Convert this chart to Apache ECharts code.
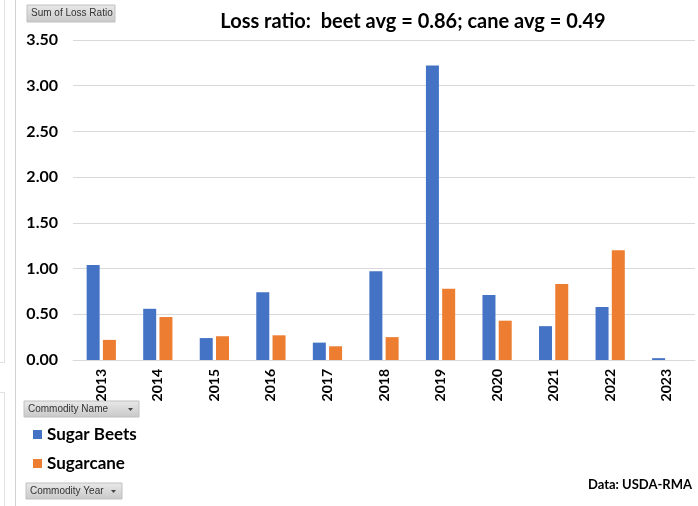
<!DOCTYPE html>
<html>
<head>
<meta charset="utf-8">
<script src="https://cdn.jsdelivr.net/npm/echarts@6/dist/echarts.min.js"></script>
<style>
  html, body { margin: 0; padding: 0; background: #fff; }
  #chart { width: 698px; height: 506px; }
</style>
</head>
<body>
<div id="chart"></div>
<script>
// 年份
var years = ['2013', '2014', '2015', '2016', '2017', '2018', '2019', '2020', '2021', '2022', '2023'];
// 甜菜
var beets = [1.04, 0.56, 0.24, 0.74, 0.19, 0.97, 3.22, 0.71, 0.37, 0.58, 0.02];
// 甘蔗
var cane = [0.22, 0.47, 0.26, 0.27, 0.15, 0.25, 0.78, 0.43, 0.83, 1.20, null];
var seriesNames = ['Sugar Beets', 'Sugarcane'];
var titleText = 'Loss ratio:  beet avg = 0.86; cane avg = 0.49';

var font = 'Lato, "Liberation Sans", sans-serif';

// excel 那种灰色按钮
function button(x, y, w, h, label, arrow) {
    var children = [
        {
            type: 'rect',
            shape: { x: 0, y: 0, width: w, height: h },
            style: {
                fill: new echarts.graphic.LinearGradient(0, 0, 0, 1, [
                    { offset: 0, color: '#e9e9e9' },
                    { offset: 1, color: '#c8c8c8' }
                ]),
                stroke: '#c0c0c0', lineWidth: 1
            }
        },
        {
            type: 'text',
            style: { x: 4, y: h / 2, text: label, fill: '#333', font: '10px "Liberation Sans", sans-serif', verticalAlign: 'middle' }
        }
    ];
    if (arrow) {
        children.push({
            type: 'polygon',
            shape: { points: [[w - 11, h / 2 - 1], [w - 6, h / 2 - 1], [w - 8.5, h / 2 + 2]] },
            style: { fill: '#444' }
        });
    }
    return { type: 'group', x: x, y: y, children: children };
}

function vline(x, y1, y2, c) {
    return { type: 'line', shape: { x1: x, y1: y1, x2: x, y2: y2 }, style: { stroke: c, lineWidth: 1 } };
}
function hline(y, x1, x2, c) {
    return { type: 'line', shape: { x1: x1, y1: y, x2: x2, y2: y }, style: { stroke: c, lineWidth: 1 } };
}

var myChart = echarts.init(document.getElementById('chart'));
var option = {
    animation: false,
    textStyle: { fontFamily: font },
    color: ['#4472C4', '#ED7D31'],
    title: {
        text: titleText,
        left: 408,
        textAlign: 'center',
        top: 7,
        textStyle: { fontSize: 20, fontWeight: 'bold', color: '#000', fontFamily: font }
    },
    legend: {
        orient: 'vertical',
        left: 28,
        top: 421,
        itemWidth: 9,
        itemHeight: 9,
        itemGap: 12,
        icon: 'rect',
        data: seriesNames,
        textStyle: { fontSize: 17, fontWeight: 'bold', color: '#000', fontFamily: font }
    },
    grid: { left: 73, right: 3, top: 40, bottom: 146 },
    xAxis: {
        type: 'category',
        data: years,
        axisTick: { show: false },
        axisLine: { lineStyle: { color: '#d9d9d9' } },
        axisLabel: { rotate: 90, fontSize: 14, fontWeight: 'bold', color: '#000', margin: 9 }
    },
    yAxis: {
        type: 'value',
        min: 0,
        max: 3.5,
        interval: 0.5,
        splitLine: { lineStyle: { color: '#d9d9d9' } },
        axisLabel: {
            fontSize: 16, fontWeight: 'bold', color: '#000', margin: 15,
            formatter: function (v) { return v.toFixed(2); }
        }
    },
    series: [
        { name: seriesNames[0], type: 'bar', data: beets, barWidth: 13, barGap: '25%' },
        { name: seriesNames[1], type: 'bar', data: cane, barWidth: 13, barGap: '25%' }
    ],
    graphic: [
        vline(15.5, 0, 506, '#d0d0d0'),
        vline(4.5, 0, 362, '#e2e2e2'),
        hline(362.5, 0, 5, '#e2e2e2'),
        hline(392.5, 0, 5, '#e2e2e2'),
        vline(4.5, 392, 506, '#e2e2e2'),
        button(27, 5, 88, 17, 'Sum of Loss Ratio', false),
        button(24, 401, 115, 16, 'Commodity Name', true),
        button(26, 483, 96, 16, 'Commodity Year', true),
        {
            type: 'text', right: 6, top: 478,
            style: { text: 'Data: USDA-RMA', font: 'bold 13px ' + font, fill: '#000' }
        }
    ]
};
myChart.setOption(option);
</script>
</body>
</html>
